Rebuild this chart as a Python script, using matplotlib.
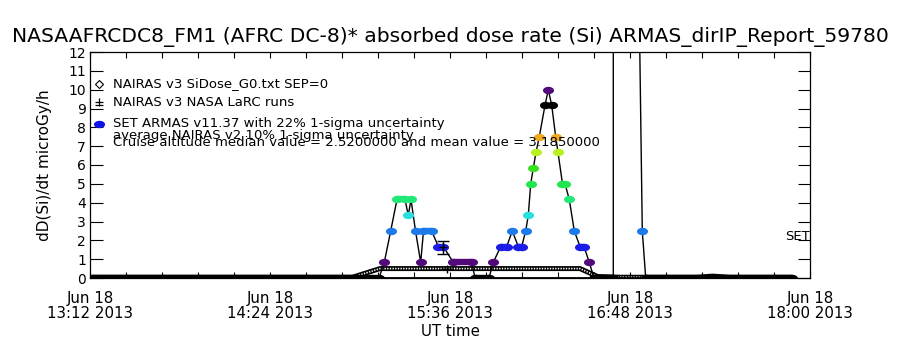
import numpy as np
import pandas as pd
import matplotlib
matplotlib.use("Agg")
import matplotlib.pyplot as plt
import matplotlib.dates as mdates
from matplotlib.ticker import AutoMinorLocator, MultipleLocator, FixedLocator
from matplotlib.path import Path
from matplotlib.transforms import Affine2D

day = '2013-06-18 '

# SET ARMAS dose rate (microGy/h), values above 12 are off scale
armas_time = ['13:13:00', '15:07:36', '15:09:43', '15:12:17', '15:14:48', '15:18:00',
              '15:19:19', '15:20:24', '15:22:12', '15:24:17', '15:25:24', '15:28:41',
              '15:31:19', '15:33:19', '15:37:19', '15:44:41', '15:46:00', '15:51:36',
              '15:53:19', '15:56:17', '15:58:41', '16:00:55', '16:03:19', '16:04:41',
              '16:06:17', '16:07:19', '16:08:17', '16:09:19', '16:10:24', '16:11:43',
              '16:14:00', '16:15:19', '16:16:41', '16:18:17', '16:19:12', '16:21:00',
              '16:22:00', '16:23:43', '16:25:43', '16:28:00', '16:29:36', '16:31:43',
              '16:33:36', '16:41:19', '16:41:19', '16:51:43', '16:52:55', '16:54:17',
              '17:52:48']
armas_dose = [0.0, 0.0, 0.83, 2.5, 4.17, 4.17,
              3.33, 4.17, 2.5, 0.83, 2.5, 2.5,
              1.67, 1.67, 0.83, 0.83, 0.0, 0.0,
              0.83, 1.67, 1.67, 2.5, 1.67, 1.67,
              2.5, 3.33, 5.0, 5.83, 6.67, 7.5,
              9.17, 10.0, 9.17, 7.5, 6.67, 5.0,
              5.0, 4.17, 2.5, 1.67, 1.67, 0.83,
              0.0, 0.0, 14.0, 14.0, 2.5, 0.0,
              0.0]

# NAIRAS v3 model (SiDose_G0, SEP=0)
nairas_time = ['13:13', '14:57', '15:08', '16:28', '16:35', '16:44', '17:15', '17:21',
               '17:28', '17:53']
nairas_dose = [0.04, 0.04, 0.5, 0.5, 0.08, 0.04, 0.04, 0.1, 0.04, 0.04]

# NAIRAS v3 NASA LaRC runs
larc_time = ['15:33:19', '15:35:00']
larc_dose = [1.63, 0.5]
larc_err = [0.36, 0.0]
larc_zero_time = ['13:13', '17:53']
larc_zero_dose = [0.0, 0.0]

level_colors = {0.0: '#000000', 0.83: '#520a7a', 1.67: '#1c1ce8', 2.5: '#1e7ae8',
                3.33: '#28dede', 4.17: '#22e878', 5.0: '#22e650', 5.83: '#3ce022',
                6.67: '#b8f020', 7.5: '#f0a820', 9.17: '#000000', 10.0: '#520a7a',
                14.0: '#ffffff'}

xtick_times = ['13:12', '14:24', '15:36', '16:48', '18:00']


def to_num(ts):
    return mdates.date2num(pd.to_datetime([day + t for t in ts]))


ta = to_num(armas_time)
va = np.array(armas_dose)
tn = to_num(nairas_time)
vn = np.array(nairas_dose)
tl = to_num(larc_time)
tz = to_num(larc_zero_time)

fig = plt.figure(figsize=(9, 3.5), dpi=100)
ax = fig.add_axes([90 / 900, 1 - 278 / 350, 720 / 900, 226 / 350])

# model band
ax.plot(tn, vn, color='k', lw=3.6, zorder=2, solid_capstyle='butt')
ax.plot(tn, vn, color='w', lw=1.2, dashes=(0.8, 0.8), zorder=2.1)
ax.plot(tz, larc_zero_dose, color='k', lw=2.0, zorder=2.2)

# ARMAS line and points
ax.plot(ta, va, color='k', lw=1.0, zorder=3)
for i in range(len(ta) - 1):
    if va[i] == va[i + 1] and ta[i] != ta[i + 1]:
        ax.plot(ta[i:i + 2], va[i:i + 2], color=level_colors[va[i]], lw=4.6,
                solid_capstyle='round', zorder=4)
ell = Path.unit_circle().transformed(Affine2D().scale(1.5, 1.0))
for t, v in zip(ta, va):
    ax.plot([t], [v], marker=ell, ms=8, color=level_colors[v], mec='none',
            ls='none', zorder=4)

ax.errorbar(tl, larc_dose, yerr=larc_err, fmt='+', color='k', ms=6, lw=1,
            capsize=4, zorder=6)

ax.set_xlim(to_num(['13:12'])[0], to_num(['18:00'])[0])
ax.set_ylim(0, 12)
ax.xaxis.set_major_locator(FixedLocator(to_num(xtick_times)))
ax.xaxis.set_minor_locator(AutoMinorLocator(5))
ax.xaxis.set_major_formatter(mdates.DateFormatter('%b %d\n%H:%M %Y'))
ax.yaxis.set_major_locator(MultipleLocator(1))
ax.tick_params(axis='x', which='both', direction='in', top=True, length=4,
               width=0.8, pad=9, labelsize=10.8)
ax.tick_params(axis='y', which='major', direction='in', right=True, length=9,
               width=0.8, pad=3, labelsize=10)
for lab in ax.get_xticklabels():
    lab.set_linespacing(1.0)
for s in ax.spines.values():
    s.set_linewidth(0.9)

# legend
tr = ax.transAxes
ax.plot([0.013], [(278 - 84) / 226], marker='D', ms=4, mfc='w', mec='k', mew=0.8,
        transform=tr, clip_on=False)
ax.plot([0.013], [(278 - 102) / 226], marker='+', ms=6, color='k', mew=0.9,
        transform=tr, clip_on=False)
ax.plot([0.013], [(278 - 105) / 226], marker='_', ms=6, color='k', mew=0.9,
        transform=tr, clip_on=False)
ax.plot([0.013], [(278 - 124) / 226], marker=ell, ms=8, color='#1010e8',
        mec='none', transform=tr, clip_on=False)
fs = 9.5
ax.text(0.032, (278 - 84) / 226, 'NAIRAS v3 SiDose_G0.txt SEP=0', transform=tr,
        fontsize=fs, va='center')
ax.text(0.032, (278 - 103) / 226, 'NAIRAS v3 NASA LaRC runs', transform=tr,
        fontsize=fs, va='center')
ax.text(0.032, (278 - 124) / 226, 'SET ARMAS v11.37 with 22% 1-sigma uncertainty',
        transform=tr, fontsize=fs, va='center')
ax.text(0.032, (278 - 136) / 226, 'average NAIRAS v2 10% 1-sigma uncertainty',
        transform=tr, fontsize=fs, va='center')
ax.text(0.032, (278 - 143) / 226,
        'Cruise altitude median value = 2.5200000 and mean value = 3.1850000',
        transform=tr, fontsize=fs, va='center', zorder=7)
ax.text(1.0, (278 - 236) / 226, 'SET', transform=tr, fontsize=fs, ha='right',
        va='center')

fig.text(0.5, 1 - 37 / 350,
         'NASAAFRCDC8_FM1 (AFRC DC-8)* absorbed dose rate (Si) ARMAS_dirIP_Report_59780',
         ha='center', va='center', fontsize=14.6)
fig.text(0.5, 1 - 332 / 350, 'UT time', ha='center', va='center', fontsize=10.8)
fig.text(45 / 900, 1 - 165 / 350, 'dD(Si)/dt microGy/h', rotation=90, ha='center',
         va='center', fontsize=11)

fig.savefig('out.png', dpi=100)
